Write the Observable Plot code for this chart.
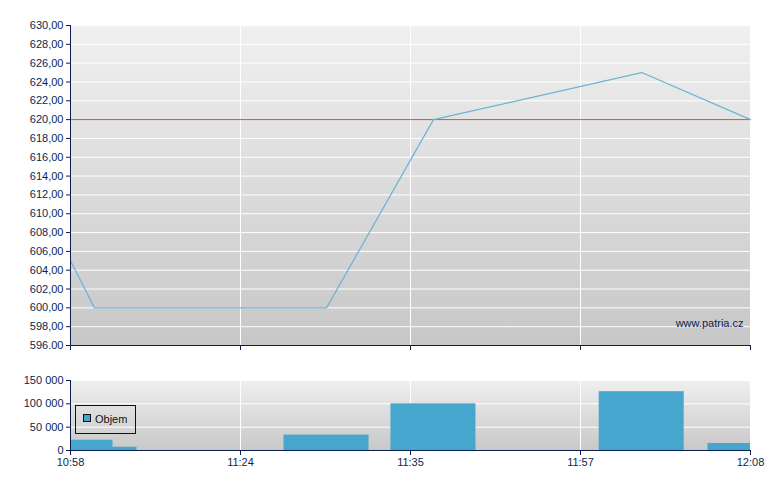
<!DOCTYPE html>
<html>
<head>
<meta charset="utf-8">
<script src="https://cdn.jsdelivr.net/npm/d3@7"></script>
<script src="https://cdn.jsdelivr.net/npm/@observablehq/plot@0.6"></script>
<style>
  html, body { margin: 0; padding: 0; background: white; }
  #chart svg { display: block; }
</style>
</head>
<body>
<div id="chart"></div>
<script>
// ---- data ----
const slots = [0, 0.141, 1.506, 2.135, 3.36, 4];          // position along the trade axis
const prices = [605, 600, 600, 620, 625, 620];
const volumes = [22000, 7000, 33000, 100000, 126000, 15000];
const refPrice = 620;
const xTickPositions = [0, 1, 2, 3, 4];
const xTickLabels = ["10:58", "11:24", "11:35", "11:57", "12:08"];
const priceTicks = [596, 598, 600, 602, 604, 606, 608, 610, 612, 614, 616, 618, 620, 622, 624, 626, 628, 630];
const priceTickLabels = ["596.00", "598,00", "600,00", "602,00", "604,00", "606,00", "608,00", "610,00", "612,00",
  "614,00", "616,00", "618,00", "620,00", "622,00", "624,00", "626,00", "628,00", "630,00"];
const volumeTicks = [0, 50000, 100000, 150000];
const volumeTickLabels = ["0", "50 000", "100 000", "150 000"];

// ---- styling ----
const navy = "#0b1f4f";
const lineColor = "#6ab3d6";
const barColor = "#46a6ce";
const refColor = "#cc4c4c";
const barHalf = 0.25;

const rows = slots.map((s, i) => ({ s, price: prices[i], vol: volumes[i] }));
const xLab = new Map(xTickPositions.map((t, i) => [t, xTickLabels[i]]));
const pLab = new Map(priceTicks.map((t, i) => [t, priceTickLabels[i]]));
const vLab = new Map(volumeTicks.map((t, i) => [t, volumeTickLabels[i]]));

const plotStyle = { fontFamily: "'Liberation Sans', Arial, sans-serif", fontSize: "11px", color: navy, background: "white", overflow: "visible" };

function addGradient(svg, id, c1, c2) {
  const defs = d3.select(svg).insert("defs", ":first-child");
  const g = defs.append("linearGradient").attr("id", id)
    .attr("x1", 0).attr("y1", 0).attr("x2", 0).attr("y2", 1);
  g.append("stop").attr("offset", "0%").attr("stop-color", c1);
  g.append("stop").attr("offset", "100%").attr("stop-color", c2);
}

const priceChart = Plot.plot({
  width: 780, height: 350,
  marginLeft: 70, marginRight: 30, marginTop: 25, marginBottom: 5,
  style: plotStyle,
  x: { domain: [0, 4], axis: null },
  y: { domain: [596, 630], axis: null },
  marks: [
    Plot.frame({ fill: "url(#gradTop)", stroke: "none" }),
    Plot.gridY(priceTicks, { stroke: "white", strokeOpacity: 1 }),
    Plot.gridX(xTickPositions, { stroke: "white", strokeOpacity: 1 }),
    Plot.ruleY([refPrice], { stroke: refColor, strokeWidth: 1 }),
    Plot.line(rows, { x: "s", y: "price", stroke: lineColor, strokeWidth: 1.2 }),
    Plot.text(["www.patria.cz"], { frameAnchor: "bottom-right", lineAnchor: "middle", dx: -7, dy: -22, fill: navy, fontSize: 11 }),
    Plot.ruleX([0], { stroke: navy }),
    Plot.ruleY([596], { stroke: navy }),
    Plot.axisY(priceTicks, { tickFormat: d => pLab.get(d), tickSize: 4, tickPadding: 3, label: null, fontSize: 11 }),
    Plot.axisX(xTickPositions, { tickFormat: () => "", tickSize: 5, label: null })
  ]
});
addGradient(priceChart, "gradTop", "#f0f0f0", "#c7c7c7");

const volumeChart = Plot.plot({
  width: 780, height: 140,
  marginLeft: 70, marginRight: 30, marginTop: 30, marginBottom: 40,
  style: plotStyle,
  x: { domain: [0, 4], axis: null },
  y: { domain: [0, 150000], axis: null },
  marks: [
    Plot.frame({ fill: "url(#gradBot)", stroke: "none" }),
    Plot.gridY(volumeTicks, { stroke: "white", strokeOpacity: 1 }),
    Plot.gridX(xTickPositions, { stroke: "white", strokeOpacity: 1 }),
    Plot.rectY(rows, { x1: d => d.s - barHalf, x2: d => d.s + barHalf, y: "vol", fill: barColor, clip: true }),
    Plot.ruleX([0], { stroke: navy }),
    Plot.ruleY([0], { stroke: navy }),
    Plot.axisY(volumeTicks, { tickFormat: d => vLab.get(d), tickSize: 4, tickPadding: 3, label: null, fontSize: 11 }),
    Plot.axisX(xTickPositions, { tickFormat: d => xLab.get(d), tickSize: 5, tickPadding: 3, label: null, fontSize: 11 })
  ]
});
addGradient(volumeChart, "gradBot", "#efefef", "#c8c8c8");

// legend
const lg = d3.select(volumeChart).append("g");
lg.append("rect").attr("x", 75.5).attr("y", 55.5).attr("width", 60).attr("height", 28)
  .attr("fill", "none").attr("stroke", "#111");
lg.append("rect").attr("x", 83.5).attr("y", 64.5).attr("width", 7).attr("height", 7)
  .attr("fill", barColor).attr("stroke", "#111");
lg.append("text").attr("x", 95).attr("y", 73).attr("fill", "#111")
  .attr("text-anchor", "start").attr("font-size", 11).text("Objem");

document.getElementById("chart").append(priceChart, volumeChart);
</script>
</body>
</html>
